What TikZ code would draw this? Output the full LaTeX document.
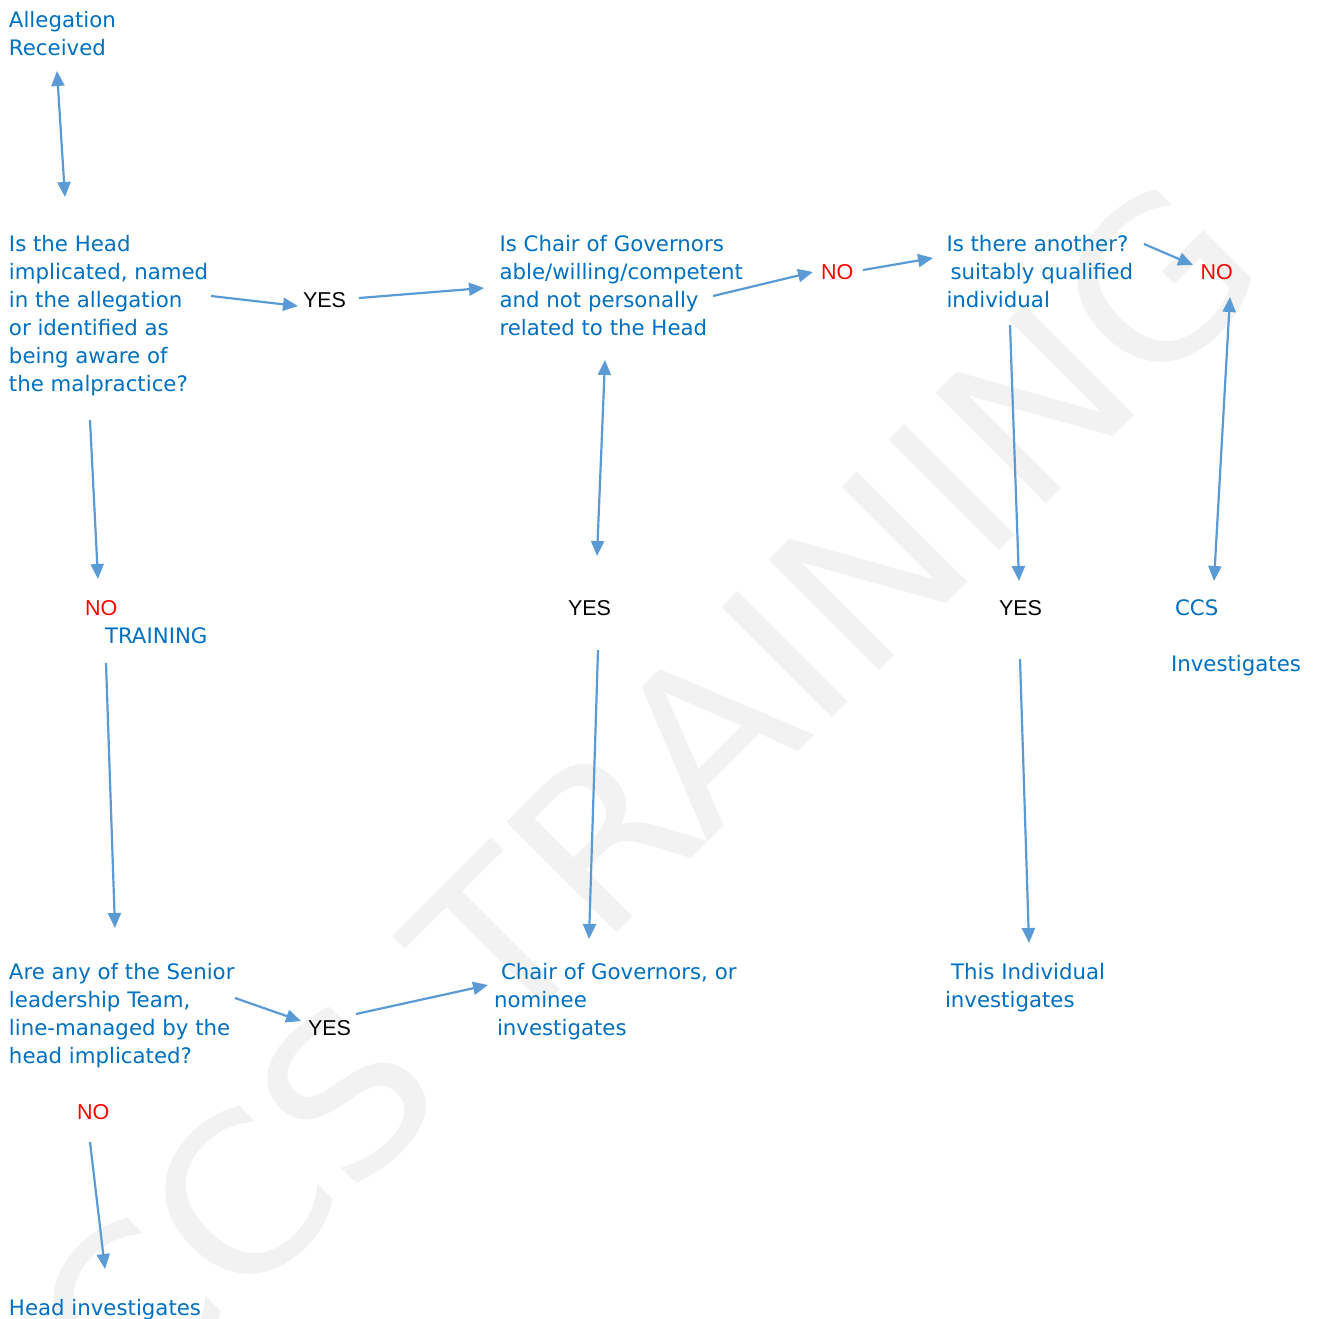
\documentclass[tikz,border=0pt]{standalone}
\usepackage{fontspec}
\setmainfont{DejaVu Sans}
\newfontfamily\arialf{Liberation Sans}
\usetikzlibrary{arrows.meta}
\definecolor{txtblue}{HTML}{0070C0}
\definecolor{arrblue}{HTML}{5B9BD5}
\definecolor{wmgray}{HTML}{F2F2F2}
\tikzset{
  bluetxt/.style={anchor=base west, inner sep=0pt, outer sep=0pt, text=txtblue, align=left, font=\fontsize{21.3}{28}\selectfont},
  yestxt/.style={anchor=base west, inner sep=0pt, outer sep=0pt, text=black, font=\arialf\fontsize{21.5}{25}\selectfont},
  notxt/.style={anchor=base west, inner sep=0pt, outer sep=0pt, text=red, font=\arialf\fontsize{21.5}{25}\selectfont},
  flow/.style={draw=arrblue, line width=2.2pt, -{Triangle[length=15pt,width=13pt]}},
  flowboth/.style={draw=arrblue, line width=2.2pt, {Triangle[length=15pt,width=13pt]}-{Triangle[length=15pt,width=13pt]}},
}
\begin{document}
\begin{tikzpicture}[x=1pt,y=-1pt]
\useasboundingbox (0,0) rectangle (1319,1318);
\fill[white] (0,0) rectangle (1319,1318);
% watermark
\begin{scope}
\clip (0,0) rectangle (1319,1318);
\node[anchor=base west, inner sep=0pt, rotate=45, text=wmgray, font=\fontsize{214}{214}\selectfont] (wm) at (126.6,1423.5) {\scalebox{1.06}[1]{CCS TRAINING}};
\end{scope}
% text nodes (multi-line nodes are placed by the baseline of their last line)
\node[bluetxt] (alleg) at (9,55) {Allegation\\Received};
\node[bluetxt] (head) at (9,391) {Is the Head\\implicated, named\\in the allegation\\or identified as\\being aware of\\the malpractice?};
\node[yestxt] (yes1) at (303,307) {YES};
\node[bluetxt] (chairq) at (499.5,335) {Is Chair of Governors\\able/willing/competent\\and not personally\\related to the Head};
\node[notxt] (no1) at (821,279) {NO};
\node[bluetxt] (another) at (946.5,307) {Is there another?\\\hspace*{4pt}suitably qualified\\individual};
\node[notxt] (no2) at (1200.5,279) {NO};
\node[notxt] (no3) at (85,615) {NO};
\node[bluetxt] (training) at (105,643) {TRAINING};
\node[yestxt] (yes2) at (568,615) {YES};
\node[yestxt] (yes3) at (999,615) {YES};
\node[bluetxt] (ccs) at (1175,615) {CCS};
\node[bluetxt] (ccsinv) at (1171,671) {Investigates};
\node[bluetxt] (slt) at (9,1063) {Are any of the Senior\\leadership Team,\\line-managed by the\\head implicated?};
\node[yestxt] (yes4) at (308,1035) {YES};
\node[bluetxt] (chairinv) at (494,1035) {\hspace*{7pt}Chair of Governors, or\\nominee\\\hspace*{3pt}investigates};
\node[bluetxt] (thisind) at (945,1007) {\hspace*{6pt}This Individual\\investigates};
\node[notxt] (no4) at (77,1119) {NO};
\node[bluetxt] (headinv) at (9,1315) {Head investigates};
% connector end points
\coordinate (a1) at (57,71);   \coordinate (a2) at (65,197);
\coordinate (b1) at (211,296); \coordinate (b2) at (298,306);
\coordinate (c1) at (359,298); \coordinate (c2) at (484,288);
\coordinate (d1) at (713,296); \coordinate (d2) at (813,272);
\coordinate (e1) at (863,270); \coordinate (e2) at (933,258);
\coordinate (f1) at (1144,244); \coordinate (f2) at (1193,265);
\coordinate (g1) at (1230,297); \coordinate (g2) at (1214,581);
\coordinate (h1) at (1010,325); \coordinate (h2) at (1019,581);
\coordinate (i1) at (605,360); \coordinate (i2) at (597,556);
\coordinate (j1) at (90,420);  \coordinate (j2) at (98,579);
\coordinate (k1) at (106,663); \coordinate (k2) at (115,928);
\coordinate (l1) at (598,650); \coordinate (l2) at (589,939);
\coordinate (m1) at (1020,659); \coordinate (m2) at (1029,943);
\coordinate (n1) at (235,998); \coordinate (n2) at (301,1021);
\coordinate (o1) at (356,1014); \coordinate (o2) at (488,985);
\coordinate (p1) at (90,1142); \coordinate (p2) at (105,1269);
% connectors
\draw[flowboth] (a1) -- (a2);
\draw[flow] (b1) -- (b2);
\draw[flow] (c1) -- (c2);
\draw[flow] (d1) -- (d2);
\draw[flow] (e1) -- (e2);
\draw[flow] (f1) -- (f2);
\draw[flowboth] (g1) -- (g2);
\draw[flow] (h1) -- (h2);
\draw[flowboth] (i1) -- (i2);
\draw[flow] (j1) -- (j2);
\draw[flow] (k1) -- (k2);
\draw[flow] (l1) -- (l2);
\draw[flow] (m1) -- (m2);
\draw[flow] (n1) -- (n2);
\draw[flow] (o1) -- (o2);
\draw[flow] (p1) -- (p2);
\end{tikzpicture}
\end{document}
